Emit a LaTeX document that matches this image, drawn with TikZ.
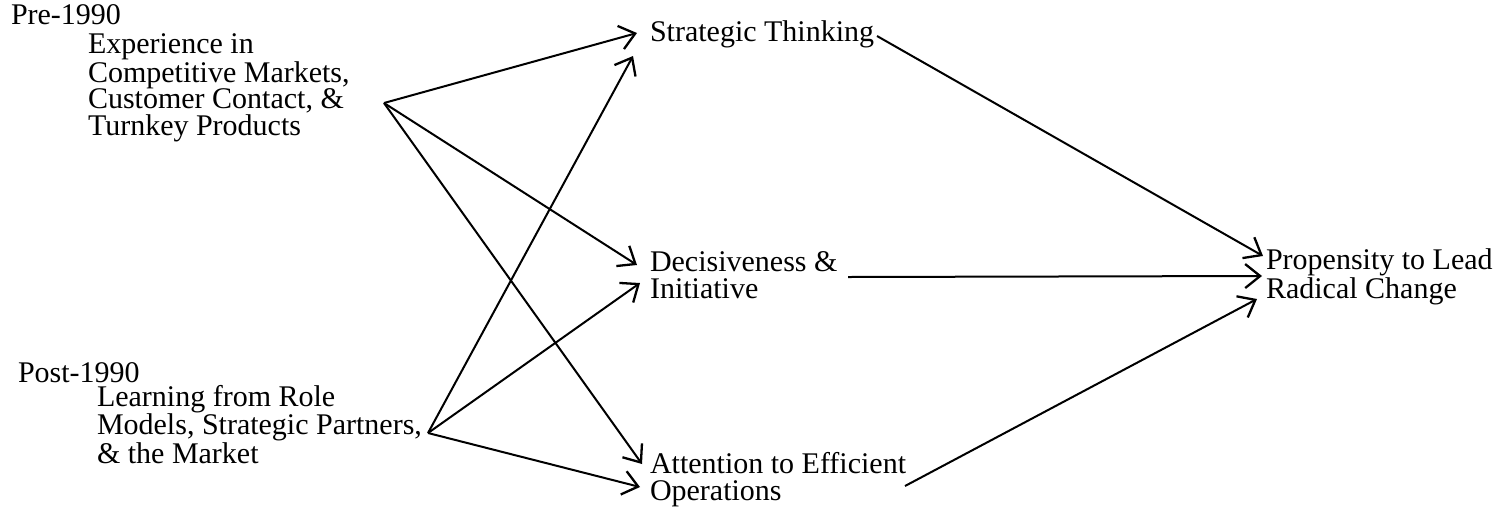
\documentclass[tikz,border=0pt]{standalone}
\usepackage{fontspec}
\setmainfont{Liberation Serif}
\usetikzlibrary{arrows.meta}
\begin{document}
\begin{tikzpicture}[x=1pt,y=-1pt,
  lbl/.style={inner sep=0pt,outer sep=0pt,anchor=base west,align=left,font=\fontsize{30}{26.5}\selectfont},
  conn/.style={line width=2pt,-{Straight Barb[length=15pt,width=24pt,line width=2.3pt]}}]
\useasboundingbox (0,0) rectangle (1511,515);
% base anchor = baseline of the last line
\node[lbl] (pre) at (11,24) {Pre-1990};
\node[lbl] (exp) at (88,135) {Experience in\\Competitive Markets,\\Customer Contact, \&\\Turnkey Products};
\node[lbl] (post) at (18,382) {Post-1990};
\node[lbl] (lrn) at (97,463) {Learning from Role\\Models, Strategic Partners,\\\& the Market};
\node[lbl] (st) at (650,41) {Strategic Thinking};
\node[lbl] (dec) at (650,298) {Decisiveness \&\\Initiative};
\node[lbl] (att) at (650,500) {Attention to Efficient\\Operations};
\node[lbl] (prop) at (1266,298) {Propensity to Lead\\Radical Change};
\coordinate (s1) at (384,103);
\coordinate (s2) at (428,433);
\coordinate (st1) at (637,33);
\coordinate (st2) at (633,56);
\coordinate (dec1) at (637,265);
\coordinate (dec2) at (640,283);
\coordinate (att1) at (642,464);
\coordinate (att2) at (640,487);
\coordinate (sto) at (877,36);
\coordinate (deco) at (848,277);
\coordinate (atto) at (905,486);
\coordinate (p1) at (1263,256);
\coordinate (p2) at (1262,276);
\coordinate (p3) at (1257,299);
\draw[conn] (s1) -- (st1);
\draw[conn] (s1) -- (dec1);
\draw[conn] (s1) -- (att1);
\draw[conn] (s2) -- (st2);
\draw[conn] (s2) -- (dec2);
\draw[conn] (s2) -- (att2);
\draw[conn] (sto) -- (p1);
\draw[conn] (deco) -- (p2);
\draw[conn] (atto) -- (p3);
\end{tikzpicture}
\end{document}
